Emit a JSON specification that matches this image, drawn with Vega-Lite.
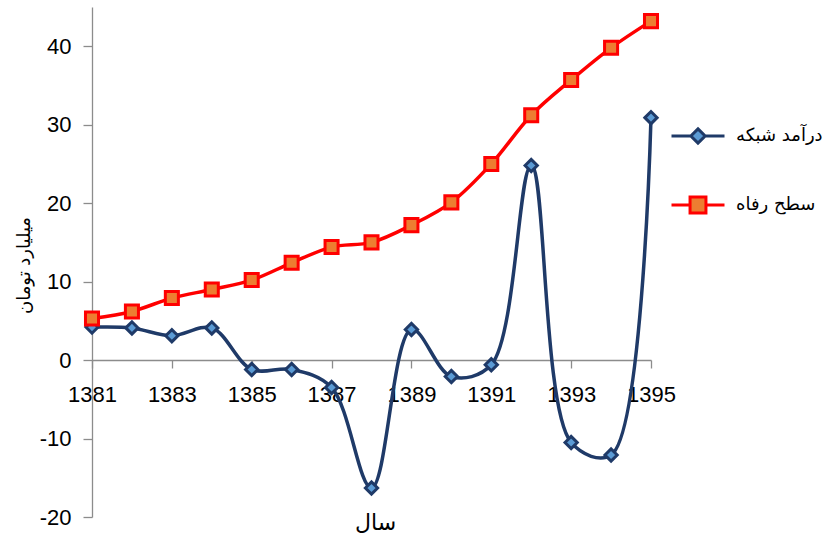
{
  "$schema": "https://vega.github.io/schema/vega-lite/v6.json",
  "width": 559,
  "height": 510,
  "autosize": {"type": "none"},
  "padding": {"left": 92, "top": 7, "right": 172, "bottom": 18},
  "background": "white",
  "config": {
    "view": {"stroke": null},
    "axis": {"grid": false, "domainColor": "#8c8c8c", "tickColor": "#8c8c8c", "domainWidth": 1.3, "tickWidth": 1.3, "labelColor": "#000000", "labelFont": "Liberation Sans", "labelFontSize": 22, "titleColor": "#000000", "titleFontWeight": "normal"}
  },
  "data": {
    "values": [
      {"year": 1381, "series": "درآمد شبکه", "value": 4.2},
      {"year": 1382, "series": "درآمد شبکه", "value": 4.1},
      {"year": 1383, "series": "درآمد شبکه", "value": 3.1},
      {"year": 1384, "series": "درآمد شبکه", "value": 4.1},
      {"year": 1385, "series": "درآمد شبکه", "value": -1.2},
      {"year": 1386, "series": "درآمد شبکه", "value": -1.2},
      {"year": 1387, "series": "درآمد شبکه", "value": -3.5},
      {"year": 1388, "series": "درآمد شبکه", "value": -16.3},
      {"year": 1389, "series": "درآمد شبکه", "value": 3.9},
      {"year": 1390, "series": "درآمد شبکه", "value": -2.1},
      {"year": 1391, "series": "درآمد شبکه", "value": -0.6},
      {"year": 1392, "series": "درآمد شبکه", "value": 24.8},
      {"year": 1393, "series": "درآمد شبکه", "value": -10.5},
      {"year": 1394, "series": "درآمد شبکه", "value": -12.1},
      {"year": 1395, "series": "درآمد شبکه", "value": 30.9},
      {"year": 1381, "series": "سطح رفاه", "value": 5.3},
      {"year": 1382, "series": "سطح رفاه", "value": 6.2},
      {"year": 1383, "series": "سطح رفاه", "value": 7.9},
      {"year": 1384, "series": "سطح رفاه", "value": 9.0},
      {"year": 1385, "series": "سطح رفاه", "value": 10.2},
      {"year": 1386, "series": "سطح رفاه", "value": 12.4},
      {"year": 1387, "series": "سطح رفاه", "value": 14.4},
      {"year": 1388, "series": "سطح رفاه", "value": 15.0},
      {"year": 1389, "series": "سطح رفاه", "value": 17.2},
      {"year": 1390, "series": "سطح رفاه", "value": 20.1},
      {"year": 1391, "series": "سطح رفاه", "value": 25.0},
      {"year": 1392, "series": "سطح رفاه", "value": 31.2},
      {"year": 1393, "series": "سطح رفاه", "value": 35.7},
      {"year": 1394, "series": "سطح رفاه", "value": 39.8},
      {"year": 1395, "series": "سطح رفاه", "value": 43.2}
    ]
  },
  "encoding": {
    "x": {
      "field": "year", "type": "quantitative",
      "scale": {"domain": [1381, 1395], "nice": false, "zero": false},
      "axis": {
        "values": [1381, 1383, 1385, 1387, 1389, 1391, 1393, 1395],
        "format": "d", "offset": -157, "tickSize": 8, "labelPadding": 16, "labelFlush": false,
        "title": "سال", "titleFont": "DejaVu Sans", "titleFontSize": 22,
        "titleX": 283, "titleY": 162, "titleBaseline": "middle", "titleAlign": "center"
      }
    },
    "y": {
      "field": "value", "type": "quantitative",
      "scale": {"domain": [-20, 45], "nice": false, "zero": false},
      "axis": {
        "values": [-20, -10, 0, 10, 20, 30, 40],
        "labelExpr": "datum.value + ''",
        "tickSize": 9, "labelPadding": 12,
        "title": "میلیارد تومان", "titleFont": "DejaVu Sans", "titleFontSize": 18,
        "titleX": -68, "titleY": 258, "titleBaseline": "middle", "titleAlign": "center", "titleAngle": -90
      }
    }
  },
  "layer": [
    {
      "mark": {"type": "line", "interpolate": "catmull-rom", "strokeWidth": 3.5},
      "encoding": {
        "color": {
          "field": "series", "type": "nominal",
          "scale": {"domain": ["درآمد شبکه", "سطح رفاه"], "range": ["#1f3a68", "#ff0000"]},
          "legend": {
            "orient": "none", "legendX": 578, "legendY": 101,
            "title": null, "labelFont": "DejaVu Sans", "labelFontSize": 18, "labelColor": "#000000",
            "symbolSize": 2809, "symbolStrokeWidth": 3, "rowPadding": 27, "labelOffset": 10,
            "encode": {
              "symbols": {
                "update": {
                  "shape": {"signal": "datum.value === 'درآمد شبکه' ? 'M-1,0H-0.27M0.27,0H1M0,-0.27L0.27,0L0,0.27L-0.27,0Z' : 'M-1,0H-0.3M0.3,0H1M-0.3,-0.3H0.3V0.3H-0.3Z'"},
                  "fill": {"signal": "datum.value === 'درآمد شبکه' ? '#5b9bd5' : '#ed7d31'"},
                  "stroke": {"signal": "datum.value === 'درآمد شبکه' ? '#1f3a68' : '#ff0000'"},
                  "strokeWidth": {"value": 3},
                  "opacity": {"value": 1}
                }
              }
            }
          }
        }
      }
    },
    {
      "transform": [{"filter": "datum.series === 'درآمد شبکه'"}],
      "mark": {"type": "point", "shape": "diamond", "size": 150, "filled": true, "fill": "#5b9bd5", "stroke": "#1f3a68", "strokeWidth": 3, "opacity": 1}
    },
    {
      "transform": [{"filter": "datum.series === 'سطح رفاه'"}],
      "mark": {"type": "point", "shape": "square", "size": 170, "filled": true, "fill": "#ed7d31", "stroke": "#ff0000", "strokeWidth": 3, "opacity": 1}
    }
  ]
}
